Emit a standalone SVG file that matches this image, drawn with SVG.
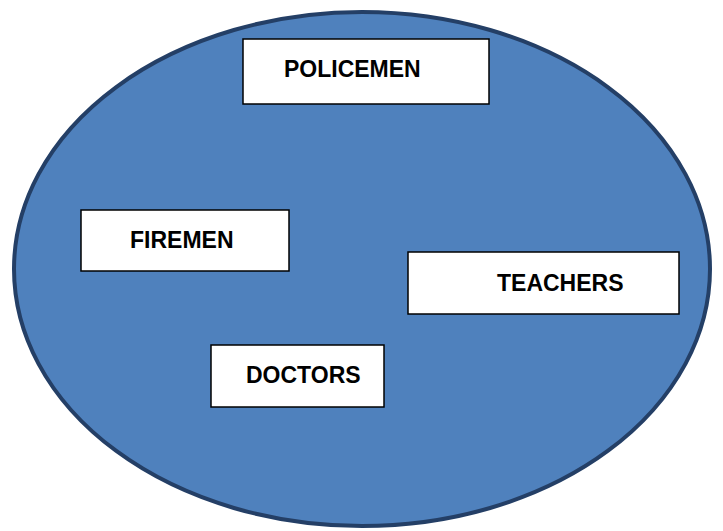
<svg xmlns="http://www.w3.org/2000/svg" width="723" height="531" viewBox="0 0 723 531">
<style>
.box{fill:#ffffff;stroke:#000000;stroke-width:1.5}
.lbl{font-family:"Liberation Sans",Arial,sans-serif;font-weight:bold;font-size:23px;fill:#000000}
</style>
<rect width="723" height="531" fill="#ffffff"/>
<g id="set">
<ellipse cx="362" cy="269" rx="348" ry="257" fill="#4f81bd" stroke="#243f66" stroke-width="4"/>
</g>
<g id="connectors"></g>
<g id="policemen">
<rect class="box" x="243" y="39" width="246" height="65"/>
<text class="lbl" x="284" y="77">POLICEMEN</text>
</g>
<g id="firemen">
<rect class="box" x="81" y="210" width="208" height="61"/>
<text class="lbl" x="130" y="248">FIREMEN</text>
</g>
<g id="teachers">
<rect class="box" x="408" y="252" width="271" height="62"/>
<text class="lbl" x="497" y="291">TEACHERS</text>
</g>
<g id="doctors">
<rect class="box" x="211" y="345" width="173" height="62"/>
<text class="lbl" x="246" y="383">DOCTORS</text>
</g>
</svg>
